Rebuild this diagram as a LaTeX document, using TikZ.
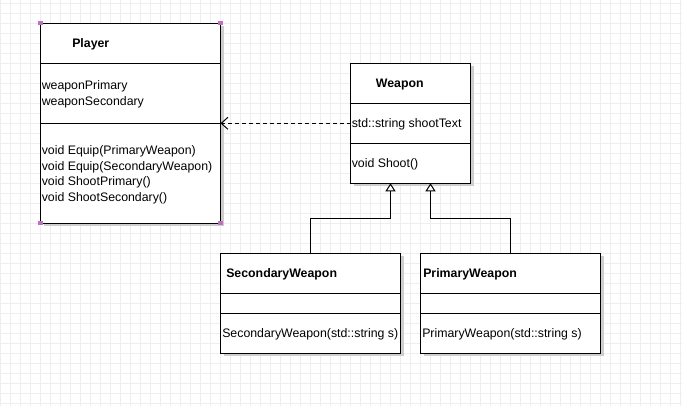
\documentclass[tikz,border=0pt]{standalone}
\usepackage{fontspec}
\setmainfont{Liberation Sans}
\usetikzlibrary{arrows.meta, shadows}

\definecolor{gridgray}{RGB}{238,238,238}
\definecolor{shadowgray}{RGB}{206,206,206}
\definecolor{handlepurple}{RGB}{191,112,191}

\begin{document}
\begin{tikzpicture}[
    x=0.75pt, y=-0.75pt,
    every node/.style={font=\fontsize{9.25pt}{11pt}\selectfont},
    compart/.style={draw, fill=white, line width=0.75pt, inner sep=0pt, outer sep=0pt,
        anchor=north west,
        drop shadow={shadow xshift=2.25pt, shadow yshift=-2.25pt, fill=shadowgray, opacity=1}},
    member/.style={anchor=west, inner sep=0pt},
    classname/.style={member, font=\fontsize{9.25pt}{11pt}\selectfont\bfseries},
    gridline/.style={gridgray, line width=0.75pt},
    inherit/.style={line width=0.75pt, -{Triangle[length=6pt, width=7.5pt, fill=white]}},
    depend/.style={line width=0.75pt, dash pattern=on 3pt off 2.25pt,
        -{Straight Barb[length=5pt, width=9pt]}},
]

% === Canvas and grid ===
\useasboundingbox (0,0) rectangle (682,406);
\fill[white] (0,0) rectangle (682,406);
\foreach \gx in {0,...,68}
    \draw[gridline] (\gx*10+0.5,0) -- (\gx*10+0.5,406);
\foreach \gy in {0,...,40}
    \draw[gridline] (0,\gy*10+3.3) -- (682,\gy*10+3.3);

% === Player ===
\node[compart, minimum width=135pt, minimum height=30pt] (playerHead) at (40.5,23.3) {};
\node[compart, minimum width=135pt, minimum height=45pt] (playerAttr) at (playerHead.south west) {};
\node[compart, minimum width=135pt, minimum height=75pt] (playerOps) at (playerAttr.south west) {};
\node[classname] (playerName) at (72,44.5) {Player};
\node[member] (playerPrim) at (41.5,86.5) {weaponPrimary};
\node[member] (playerSec) at (41.5,102) {weaponSecondary};
\node[member] (playerEquipP) at (41.5,151.5) {void Equip(PrimaryWeapon)};
\node[member] (playerEquipS) at (41.5,167) {void Equip(SecondaryWeapon)};
\node[member] (playerShootP) at (41.5,182.5) {void ShootPrimary()};
\node[member] (playerShootS) at (41.5,198) {void ShootSecondary()};

% === Weapon ===
\node[compart, minimum width=90pt, minimum height=30pt] (weaponHead) at (350.5,63.3) {};
\node[compart, minimum width=90pt, minimum height=30pt] (weaponAttr) at (weaponHead.south west) {};
\node[compart, minimum width=90pt, minimum height=30pt] (weaponOps) at (weaponAttr.south west) {};
\node[classname] (weaponName) at (375.7,84.5) {Weapon};
\node[member] (weaponText) at (351.5,124.5) {std::string shootText};
\node[member] (weaponShoot) at (351.5,164.5) {void Shoot()};

% === SecondaryWeapon ===
\node[compart, minimum width=135pt, minimum height=30pt] (secHead) at (220.5,253.3) {};
\node[compart, minimum width=135pt, minimum height=15pt] (secAttr) at (secHead.south west) {};
\node[compart, minimum width=135pt, minimum height=30pt] (secOps) at (secAttr.south west) {};
\node[classname] (secName) at (226,274.5) {SecondaryWeapon};
\node[member] (secCtor) at (222,334.5) {SecondaryWeapon(std::string s)};

% === PrimaryWeapon ===
\node[compart, minimum width=135pt, minimum height=30pt] (primHead) at (420.5,253.3) {};
\node[compart, minimum width=135pt, minimum height=15pt] (primAttr) at (primHead.south west) {};
\node[compart, minimum width=135pt, minimum height=30pt] (primOps) at (primAttr.south west) {};
\node[classname] (primName) at (423,274.5) {PrimaryWeapon};
\node[member] (primCtor) at (422,334.5) {PrimaryWeapon(std::string s)};

% === Dependency ===
\draw[depend] (weaponAttr.west) -- (playerOps.north east);

% === Generalisation ===
\coordinate (secBend) at (390.5,218.3);
\coordinate (primBend) at (430.5,218.3);
\draw[inherit] (secHead.north) |- (secBend) -- (secBend |- weaponOps.south);
\draw[inherit] (primHead.north) |- (primBend) -- (primBend |- weaponOps.south);

% === Selection handles ===
\foreach \c in {playerHead.north west, playerHead.north east,
                playerOps.south west, playerOps.south east}
    \fill[handlepurple] ([shift={(-2.2,-2.2)}]\c) rectangle ([shift={(2.2,2.2)}]\c);

\end{tikzpicture}
\end{document}
